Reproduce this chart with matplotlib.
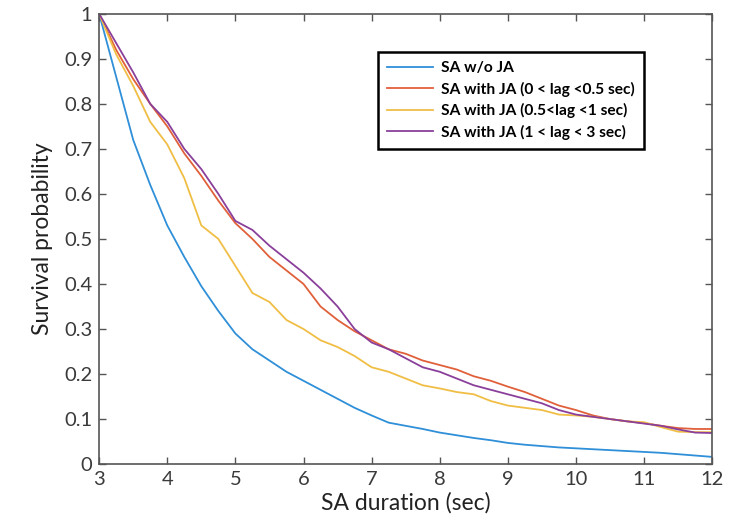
import matplotlib
matplotlib.use("Agg")
import matplotlib.pyplot as plt
import numpy as np

# Данные (x-сетка общая для всех кривых)
duration = [3.0, 3.25, 3.5, 3.75, 4.0, 4.25, 4.5, 4.75, 5.0, 5.25, 5.5, 5.75,
            6.0, 6.25, 6.5, 6.75, 7.0, 7.25, 7.5, 7.75, 8.0, 8.25, 8.5, 8.75,
            9.0, 9.25, 9.5, 9.75, 10.0, 10.25, 10.5, 10.75, 11.0, 11.25, 11.5,
            11.75, 12.0]

sa_no_ja = [1.0, 0.86, 0.72, 0.62, 0.53, 0.46, 0.395, 0.34, 0.29, 0.255, 0.23,
            0.205, 0.185, 0.165, 0.145, 0.125, 0.108, 0.092, 0.085, 0.078, 0.07,
            0.064, 0.058, 0.053, 0.047, 0.043, 0.04, 0.037, 0.035, 0.033, 0.031,
            0.029, 0.027, 0.025, 0.022, 0.019, 0.016]

sa_ja_0_05 = [1.0, 0.92, 0.855, 0.80, 0.75, 0.69, 0.64, 0.585, 0.535, 0.50, 0.46,
              0.43, 0.40, 0.35, 0.32, 0.295, 0.275, 0.255, 0.245, 0.23, 0.22,
              0.21, 0.195, 0.185, 0.172, 0.16, 0.145, 0.13, 0.12, 0.108, 0.10,
              0.095, 0.091, 0.085, 0.08, 0.078, 0.078]

sa_ja_05_1 = [1.0, 0.91, 0.84, 0.76, 0.71, 0.635, 0.53, 0.50, 0.44, 0.38, 0.36,
              0.32, 0.30, 0.275, 0.26, 0.24, 0.215, 0.205, 0.19, 0.175, 0.168,
              0.16, 0.155, 0.14, 0.13, 0.125, 0.12, 0.11, 0.108, 0.105, 0.10,
              0.095, 0.093, 0.082, 0.072, 0.071, 0.071]

sa_ja_1_3 = [1.0, 0.935, 0.87, 0.80, 0.76, 0.70, 0.655, 0.60, 0.54, 0.52, 0.485,
             0.455, 0.425, 0.39, 0.35, 0.30, 0.27, 0.255, 0.235, 0.215, 0.205,
             0.19, 0.175, 0.165, 0.155, 0.145, 0.135, 0.12, 0.11, 0.105, 0.10,
             0.095, 0.09, 0.085, 0.077, 0.07, 0.069]

labels = ['SA w/o JA',
          'SA with JA (0 < lag <0.5 sec)',
          'SA with JA (0.5<lag <1 sec)',
          'SA with JA (1 < lag < 3 sec)']
colors = ['#2f8fd8', '#e0603a', '#f0be45', '#8a3f9a']
x_ticks = [3, 4, 5, 6, 7, 8, 9, 10, 11, 12]
y_ticks = [0, 0.1, 0.2, 0.3, 0.4, 0.5, 0.6, 0.7, 0.8, 0.9, 1]

plt.rcParams['font.family'] = ['Lato', 'DejaVu Sans']

fig = plt.figure(figsize=(7.29, 5.31), dpi=100)
ax = fig.add_axes([0.136, 0.126, 0.841, 0.848])

for ys, lab, col in zip([sa_no_ja, sa_ja_0_05, sa_ja_05_1, sa_ja_1_3], labels, colors):
    ax.plot(duration, ys, color=col, lw=1.3, label=lab)

ax.set_xlim(3, 12)
ax.set_ylim(0, 1)
ax.set_xticks(x_ticks)
ax.set_yticks(y_ticks)
ax.set_xticklabels([str(t) for t in x_ticks])
ax.set_yticklabels(['0', '0.1', '0.2', '0.3', '0.4', '0.5', '0.6', '0.7', '0.8', '0.9', '1'])

grey = '#555555'
for s in ax.spines.values():
    s.set_color(grey)
    s.set_linewidth(1.2)
ax.tick_params(direction='in', length=5, width=1, colors=grey, labelcolor='#3a3a3a',
               labelsize=14.5, top=True, right=True, pad=5)

ax.set_xlabel('SA duration (sec)', fontsize=16.5, color='#222222', labelpad=3)
ax.set_ylabel('Survival probability', fontsize=16.5, color='#222222', labelpad=8)

leg = ax.legend(loc='upper left', bbox_to_anchor=(0.455, 0.916), borderaxespad=0,
                frameon=True, fancybox=False, framealpha=1, handlelength=2.9,
                handletextpad=0.55, prop={'weight': 'bold', 'size': 11.2},
                borderpad=0.6, labelspacing=0.42)
leg.get_frame().set_edgecolor('black')
leg.get_frame().set_linewidth(1.8)

fig.savefig('out.png', dpi=100)
